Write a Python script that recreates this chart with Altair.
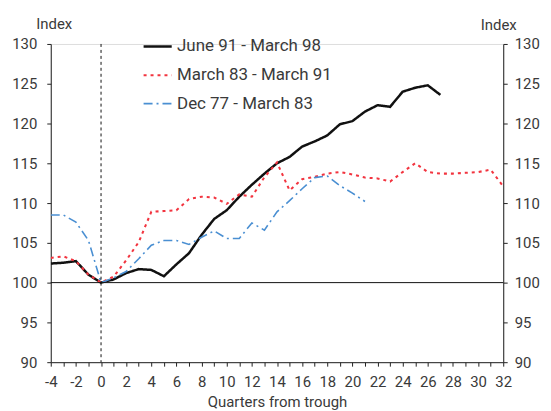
import altair as alt
import pandas as pd

series_names = ["June 91 - March 98", "March 83 - March 91", "Dec 77 - March 83"]
series_colors = ["#111111", "#f2343f", "#4a8fd2"]
series_dash = [[1, 0], [3, 4], [9, 4, 2, 4]]
series_width = [2.5, 1.6, 1.6]

q_black = list(range(-4, 28))
v_black = [102.4, 102.5, 102.7, 101.0, 100.0, 100.4, 101.2, 101.7, 101.6, 100.8,
           102.3, 103.7, 106.0, 108.0, 109.1, 110.8, 112.3, 113.7, 115.0, 115.8,
           117.1, 117.75, 118.5, 119.9, 120.3, 121.5, 122.3, 122.1, 124.0, 124.5,
           124.8, 123.6]

q_red = list(range(-4, 33))
v_red = [103.1, 103.3, 102.7, 101.0, 100.0,
         100.75, 102.8, 105.1, 108.9, 109.0, 109.1, 110.5, 110.8, 110.7, 109.9,
         111.1, 110.8, 113.25, 115.1, 111.6, 113.0, 113.3, 113.7, 113.9, 113.6,
         113.2, 113.1, 112.7, 113.9, 115.0, 113.9, 113.7, 113.7, 113.8, 113.9,
         114.2, 112.1]

q_blue = list(range(-4, 22))
v_blue = [108.5, 108.5, 107.6, 105.3, 100.0,
          100.6, 101.4, 103.0, 104.7, 105.3, 105.3, 104.8, 105.7, 106.5, 105.55,
          105.55, 107.5, 106.6, 108.9, 110.3, 111.8, 113.2, 113.4, 112.2, 111.25,
          110.2]

x_ticks = list(range(-4, 33))
y_ticks = [90, 95, 100, 105, 110, 115, 120, 125, 130]

rows = []
for name, qs, vs in [(series_names[0], q_black, v_black),
                     (series_names[1], q_red, v_red),
                     (series_names[2], q_blue, v_blue)]:
    for q, v in zip(qs, vs):
        rows.append({"quarter": q, "value": v, "series": name})
df = pd.DataFrame(rows)

FONT = "Roboto"
TXT = "#3a3a3a"

x_scale = alt.Scale(domain=[-4, 32], nice=False, zero=False)
x_axis = alt.Axis(values=x_ticks, labelExpr="datum.value % 2 == 0 ? '' + datum.value : ''",
                  title="Quarters from trough", grid=False, tickSize=4,
                  labelPadding=8, labelFontSize=15, titleFontSize=15,
                  titleFontWeight="normal", titlePadding=6, labelOverlap=False,
                  labelFlush=False,
                  domainColor="#222", tickColor="#222", labelColor=TXT, titleColor=TXT,
                  labelFont=FONT, titleFont=FONT)

y_scale = alt.Scale(domain=[90, 130], nice=False, zero=False)

lines = alt.Chart(df).mark_line(clip=True).encode(
    x=alt.X("quarter:Q", scale=x_scale, axis=x_axis),
    y=alt.Y("value:Q", scale=y_scale,
            axis=alt.Axis(values=y_ticks, orient="left", grid=False, tickSize=4,
                          labelPadding=10, labelFontSize=15, title="Index",
                          titleAngle=0, titleAlign="center", titleBaseline="alphabetic",
                          titleX=3, titleY=-16, titleFontSize=15, titleFontWeight="normal",
                          domainColor="#222", tickColor="#222", labelColor=TXT, titleColor=TXT,
                          labelFont=FONT, titleFont=FONT)),
    color=alt.Color("series:N", sort=series_names,
                    scale=alt.Scale(domain=series_names, range=series_colors),
                    legend=alt.Legend(title=None, orient="none", legendX=92, legendY=-13,
                                      symbolType="stroke", symbolSize=800, symbolStrokeWidth=2,
                                      labelFontSize=17, labelFont=FONT, labelColor=TXT,
                                      rowPadding=5, padding=0, labelOffset=4)),
    strokeDash=alt.StrokeDash("series:N", sort=series_names,
                              scale=alt.Scale(domain=series_names, range=series_dash),
                              legend=None),
    strokeWidth=alt.StrokeWidth("series:N", sort=series_names,
                                scale=alt.Scale(domain=series_names, range=series_width),
                                legend=None),
)

hline = alt.Chart(df).mark_rule(color="#111", strokeWidth=1).encode(
    y=alt.Y("v:Q", scale=y_scale,
            axis=alt.Axis(values=y_ticks, orient="right", grid=False, tickSize=4,
                          labelPadding=7, labelFontSize=15, title="Index",
                          titleAngle=0, titleAlign="center", titleBaseline="alphabetic",
                          titleX=-5, titleY=-15, titleFontSize=15, titleFontWeight="normal",
                          domainColor="#222", tickColor="#222", labelColor=TXT, titleColor=TXT,
                          labelFont=FONT, titleFont=FONT)),
).transform_calculate(v="100").transform_aggregate(v="max(v)")

vline = alt.Chart(df).mark_rule(color="#111", strokeWidth=1, strokeDash=[3, 3]).encode(
    x=alt.X("z:Q", scale=x_scale, axis=x_axis),
).transform_calculate(z="0").transform_aggregate(z="max(z)")

chart = alt.layer(lines, hline, vline).resolve_scale(y="independent").properties(
    width=455, height=320,
    autosize=alt.AutoSizeParams(type="none"),
    padding={"left": 43, "top": 35, "right": 40, "bottom": 60},
).configure_view(stroke=None).configure(font=FONT)

chart.save("out.html", embed_options={"renderer": "svg", "actions": False})
